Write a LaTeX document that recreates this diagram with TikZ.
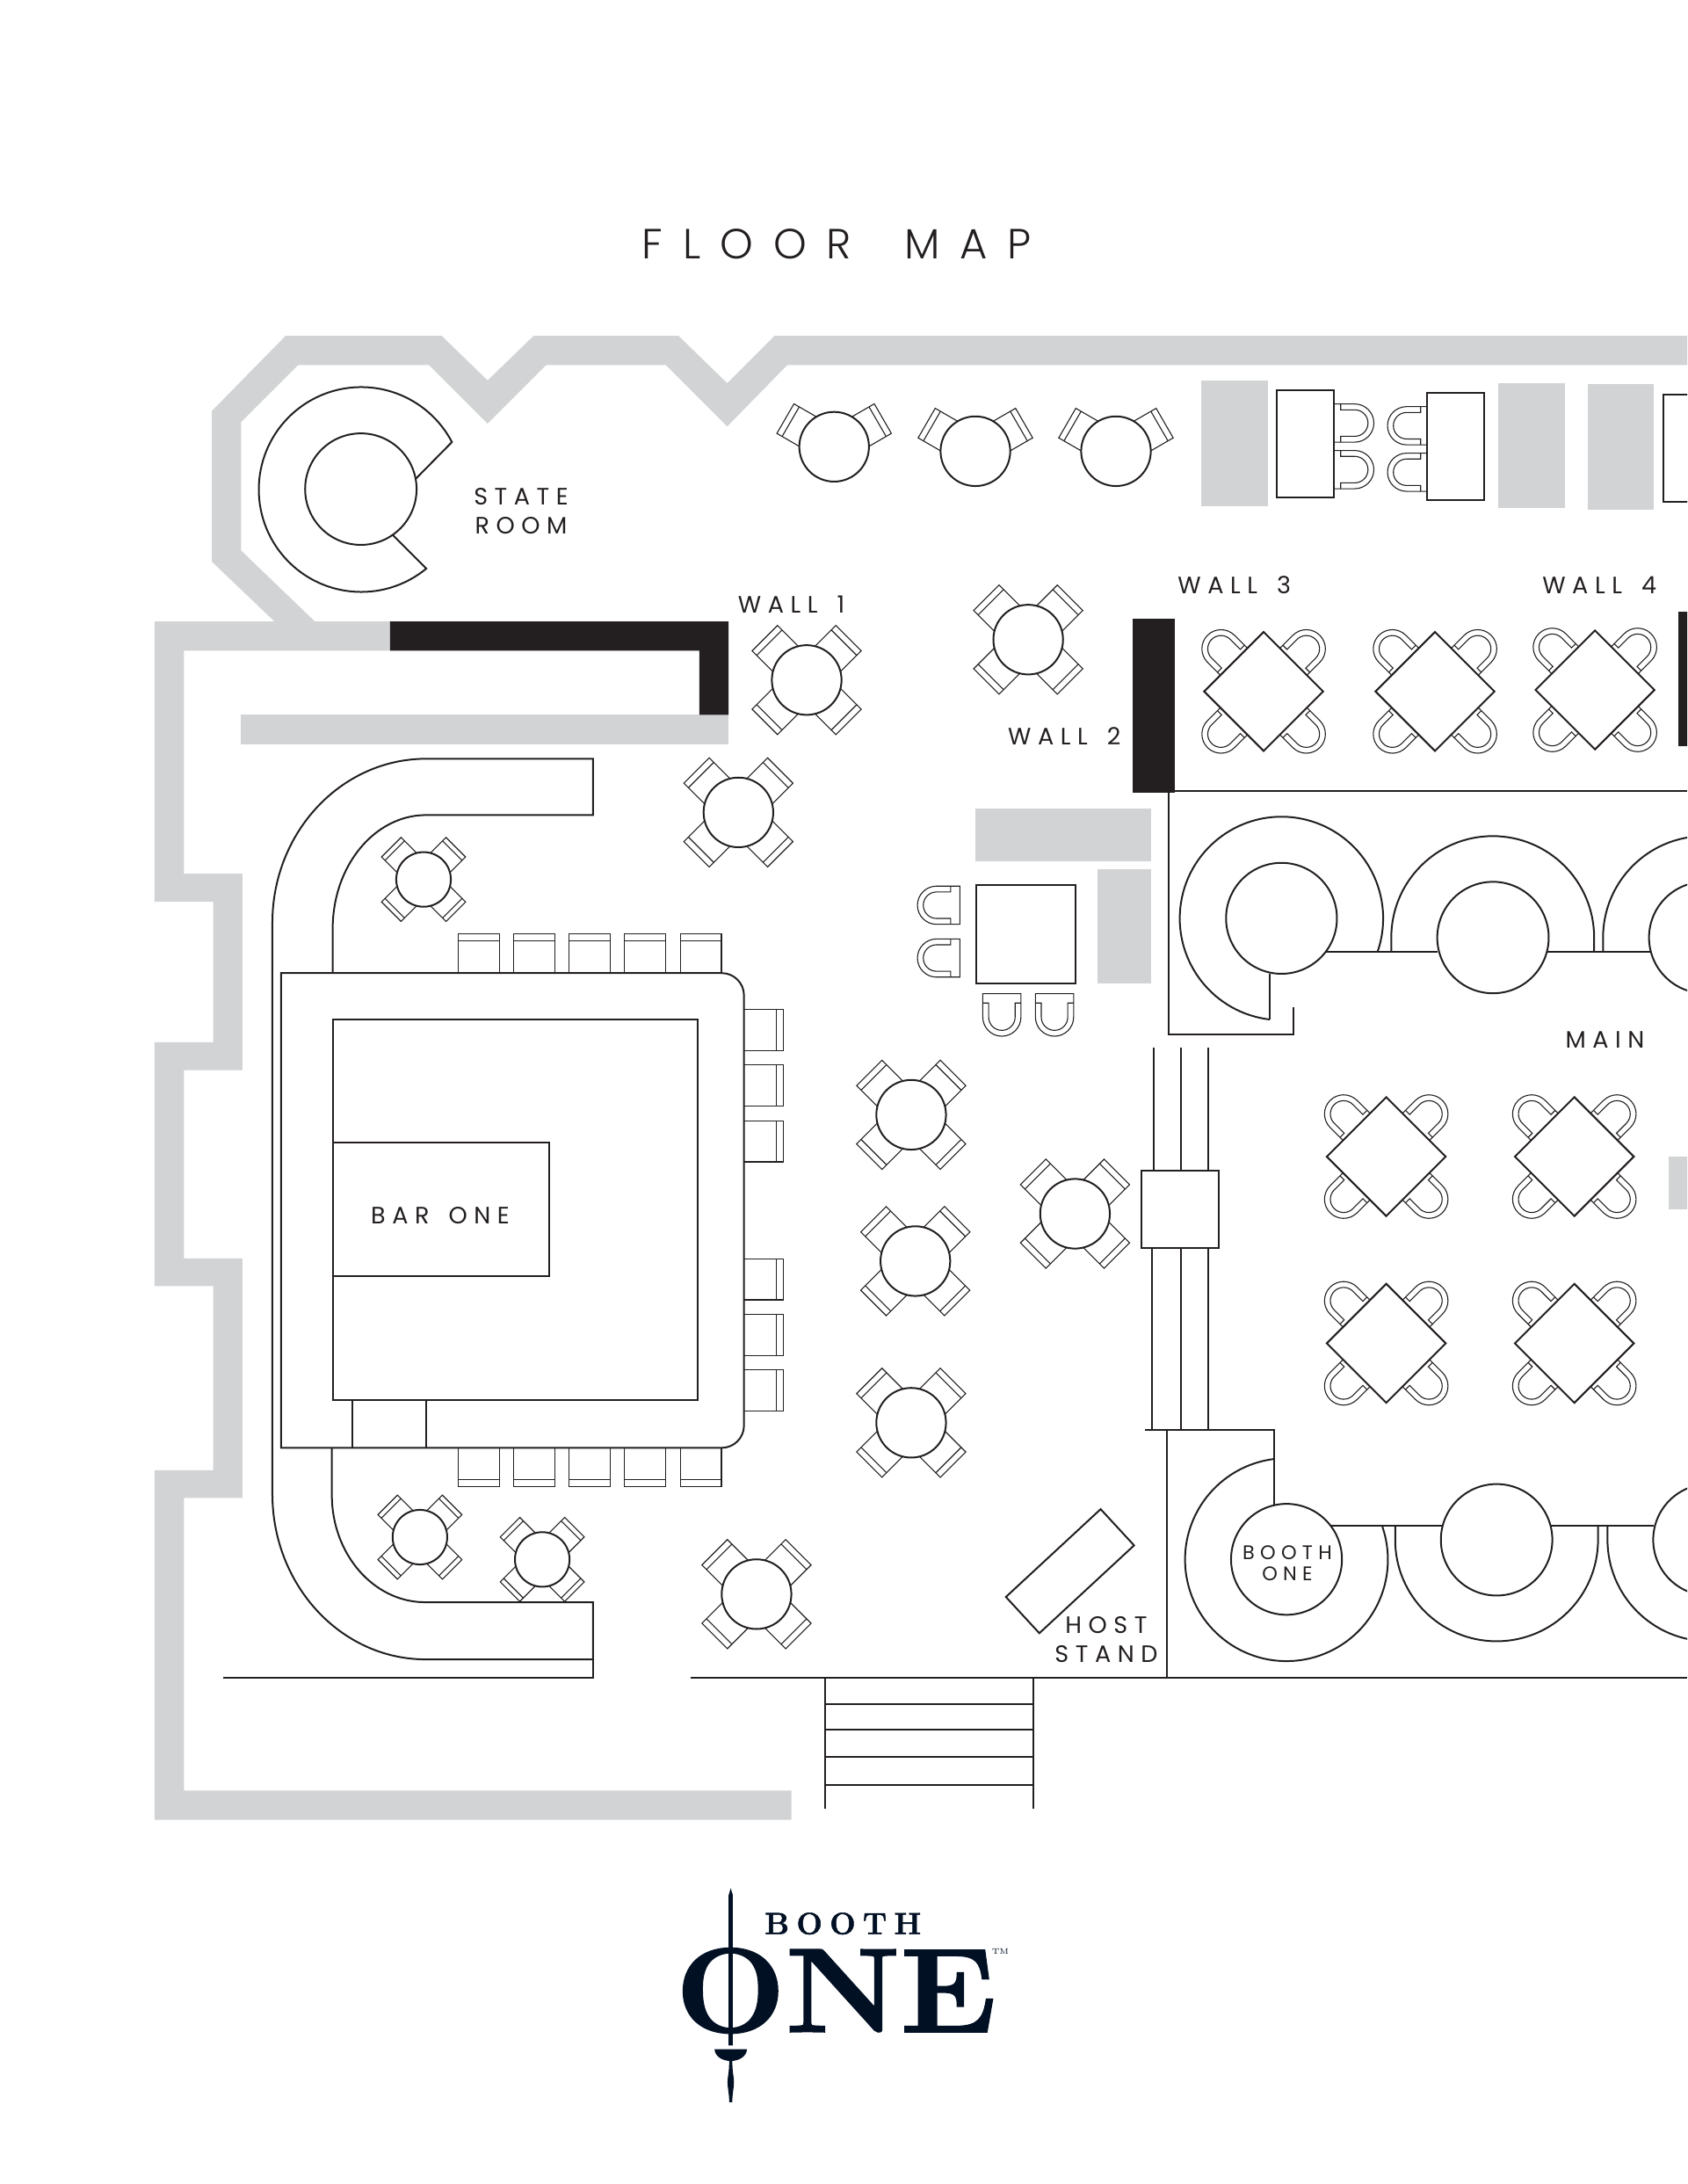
\documentclass[tikz,border=0pt]{standalone}
\usepackage{fontspec}
\setmainfont{Poppins}[LetterSpace=28,WordSpace=1.5]
\newfontfamily\titlefont{Poppins Light}[LetterSpace=47,WordSpace=1.7]
\newfontfamily\logofont{Latin Modern Roman}[BoldFeatures={FakeBold=1.5}]
\definecolor{wallgrey}{HTML}{D1D3D4}
\definecolor{wallblack}{HTML}{231F20}
\definecolor{logoblue}{HTML}{021024}
\tikzset{
	wall/.style={fill=wallgrey},
	darkwall/.style={fill=wallblack},
	mainline/.style={line width=1pt,color=wallblack},
	chairline/.style={line width=0.55pt,color=wallblack},
	tabletop/.style={mainline,fill=white},
	maplabel/.style={inner sep=0pt,align=center,text=wallblack,font=\fontsize{13.5}{16.5}\selectfont},
}
% chair seen from above, x y angle scale
\newcommand{\backchair}[4]{
	\begin{scope}[shift={(#1,#2)},rotate=#3,scale=#4]
	\draw[chairline] (20,-12.9) -- (42.5,-12.9) -- (42.5,12.9) -- (20,12.9);
	\draw[chairline] (37.9,-12.9) -- (37.9,12.9);
	\end{scope}
}
% rounded chair, x y angle offset
\newcommand{\uchair}[4]{
	\begin{scope}[shift={(#1,#2)},rotate=#3]
	\begin{scope}[shift={(#4,0)}]
	\draw[chairline] (0,-13.7) -- (16.8,-13.7) arc (-90:90:13.7) -- (0,13.7) -- cycle;
	\draw[chairline] (6.7,-13.7) -- (6.7,-9.5) -- (16.8,-9.5) arc (-90:90:9.5) -- (6.7,9.5) -- (6.7,13.7);
	\end{scope}
	\end{scope}
}
% stool at the bar, x y angle
\newcommand{\stool}[3]{
	\begin{scope}[shift={(#1,#2)},rotate=#3]
	\draw[chairline] (0,-14.8) -- (28,-14.8) -- (28,14.8) -- (0,14.8);
	\draw[chairline] (23,-14.8) -- (23,14.8);
	\end{scope}
}
\begin{document}
\begin{tikzpicture}[x=0.79273pt,y=-0.79273pt]
	\useasboundingbox (0,0) rectangle (1211,1567.3);
	\clip (0,0) rectangle (1211,1567.3);
	% outer walls
	\fill[wall] (1211,241) -- (556,241) -- (522,275) -- (487,241) -- (383,241) -- (350,273) -- (317,241) -- (205,241) -- (152,295) -- (152,403) -- (197,446) -- (111,446) -- (111,647) -- (153,647) -- (153,748) -- (111,748) -- (111,923) -- (153,923) -- (153,1055) -- (111,1055) -- (111,1306) -- (568,1306) -- (568,1285) -- (132,1285) -- (132,1075) -- (174,1075) -- (174,903) -- (132,903) -- (132,768) -- (174,768) -- (174,627) -- (132,627) -- (132,467) -- (280,467) -- (280,446) -- (226,446) -- (173,395) -- (173,303) -- (214,262) -- (308,262) -- (350,304) -- (392,262) -- (478,262) -- (522,306) -- (565,262) -- (1211,262) -- cycle;
	\fill[wall] (173,513) rectangle (523,534);
	\fill[wall] (862,273) rectangle (910,363);
	\fill[wall] (1075.2,274.8) rectangle (1123.1,364.8);
	\fill[wall] (1139.5,275.8) rectangle (1187.2,365.8);
	\fill[wall] (700,580) rectangle (826,618);
	\fill[wall] (788,624) rectangle (826,706);
	\fill[wall] (1198,830) rectangle (1230,868);
	\fill[darkwall] (280,446) -- (523,446) -- (523,513) -- (502,513) -- (502,467) -- (280,467) -- cycle;
	\fill[darkwall] (813,444) rectangle (843,569);
	\fill[darkwall] (1204.7,439) rectangle (1230,535.7);
	% state room
	\draw[tabletop] (306,408) arc (50.5:332.4:73.5) -- (298,344) -- (282,384) -- cycle;
	\draw[tabletop] (259,351) circle (40);
	% long counter round the bar
	\draw[mainline] (238.8,698.3) -- (238.8,666.5) arc (180:270:67 and 81.6) -- (425.7,584.9) -- (425.7,544.5) -- (305.9,544.5) arc (270:180:110.4 and 117.8) -- (195.5,1072) arc (180:90:110 and 118.8) -- (425.7,1190.8) -- (425.7,1149.8) -- (305.2,1149.8) arc (90:180:67 and 77) -- (238.2,1039);
	\draw[mainline] (160,1204) -- (425.7,1204) -- (425.7,1190.8);
	% bar stools
	\foreach \x in {343.8,383.3,423,463,503}
	{ \stool{\x}{698.3}{90}
	\stool{\x}{1039}{-90}
	}
	\foreach \y in {739,779,819,918,958,998}
	{ \stool{534}{\y}{0}
	}
	% bar
	\draw[tabletop] (201.8,698.3) -- (518,698.3) arc (270:360:16) -- (534,1023) arc (0:90:16) -- (201.8,1039) -- cycle;
	\draw[mainline] (239.3,731.6) rectangle (501,1005);
	\draw[mainline] (239.3,820) rectangle (394,916);
	\draw[mainline] (253,1005) -- (253,1039);
	\draw[mainline] (306,1005) -- (306,1039);
	% round tables for two
	\foreach \x/\y in {598.7/320.6,700.1/323.8,801/323.8}
	{ \backchair{\x}{\y}{30}{0.95}
	\backchair{\x}{\y}{150}{0.95}
	\draw[tabletop] (\x,\y) circle (25);
	}
	% round tables for four
	\foreach \x/\y in {579/488,738/459,530/583,654/800,657/905,654/1021,771.6/871,543/1144}
	{ \foreach \a in {45,135,225,315}
	{ \backchair{\x}{\y}{\a}{1}
	}
	\draw[tabletop] (\x,\y) circle (25);
	}
	\foreach \x/\y in {304/631.1,301.4/1103.1,389.2/1119.1}
	{ \foreach \a in {45,135,225,315}
	{ \backchair{\x}{\y}{\a}{0.77}
	}
	\draw[tabletop] (\x,\y) circle (19.6);
	}
	% square tables with four chairs
	\foreach \x/\y in {907/496.2,1030/496.2,1144.8/495.1,995/830,1130/830,995/964,1130/964}
	{ \foreach \a in {45,135,225,315}
	{ \uchair{\x}{\y}{\a}{26.5}
	}
	\draw[tabletop] (\x-42.7,\y) -- (\x,\y-42.7) -- (\x+42.7,\y) -- (\x,\y+42.7) -- cycle;
	}
	% long tables at the top
	\uchair{957.7}{303.6}{0}{-2.1}
	\uchair{957.7}{337}{0}{-2.1}
	\draw[tabletop] (916.6,280) rectangle (957.7,356.8);
	\uchair{1024.3}{305.5}{180}{-2.1}
	\uchair{1024.3}{338.9}{180}{-2.1}
	\draw[tabletop] (1024.3,282.1) rectangle (1065.5,358.7);
	\draw[tabletop] (1194.2,283.4) rectangle (1240,360);
	% table near the service
	\draw[tabletop] (701,635) rectangle (772,706);
	\uchair{689}{649.6}{180}{0}
	\uchair{689}{687.5}{180}{0}
	\uchair{719.1}{713.1}{-90}{0}
	\uchair{756.9}{713.1}{-90}{0}
	% upper booths
	\draw[mainline] (838.9,567.6) -- (1211,567.6);
	\draw[mainline] (838.9,567.6) -- (838.9,742.5) -- (928.2,742.5) -- (928.2,723);
	\draw[mainline] (950,683) -- (1032,683);
	\draw[mainline] (1110,683) -- (1186,683);
	\draw[mainline] (911.4,731.6) arc (96.6:378.8:73);
	\draw[mainline] (911.4,731.6) -- (911.4,698.9);
	\draw[mainline] (998.6,683) -- (998.6,672.8) arc (180:360:72.8) -- (1144.2,683);
	\draw[mainline] (1150.6,683) -- (1150.6,672.8) arc (180:360:72.8) -- (1296.2,683);
	\draw[tabletop] (919.8,659) circle (39.8);
	\draw[tabletop] (1071.6,672.8) circle (40);
	\draw[tabletop] (1223.6,672.8) circle (40);
	% lower booths
	\draw[mainline] (822,1026.4) -- (914.5,1026.4) -- (914.5,1079.6);
	\draw[mainline] (950,1095) -- (1187,1095);
	\draw[mainline] (914.5,1047) arc (263:-19:72.8);
	\draw[mainline] (1001.4,1095) -- (1001.4,1105) arc (180:0:72.8) -- (1147,1095);
	\draw[mainline] (1153.8,1095) -- (1153.8,1105) arc (180:0:72.8) -- (1299.4,1095);
	\draw[tabletop] (923.4,1119) circle (39.8);
	\draw[tabletop] (1074.2,1105) circle (40);
	\draw[tabletop] (1226.6,1105) circle (40);
	% passage
	\foreach \x/\u in {828/827,847.7/847.7,867.4/867.4}
	{ \draw[mainline] (\x,751.6) -- (\x,840.3);
	\draw[mainline] (\u,895.8) -- (\u,1026.4);
	}
	\draw[tabletop] (819.5,840.3) rectangle (875,895.8);
	\draw[mainline] (837.4,1026.4) -- (837.4,1204);
	\draw[mainline] (496,1204) -- (1211,1204);
	% host stand
	\draw[mainline] (722,1146) -- (790,1083) -- (814,1109) -- (746,1172) -- cycle;
	% stairs
	\draw[mainline] (592,1204) -- (592,1298);
	\draw[mainline] (742,1204) -- (742,1298);
	\foreach \y in {1223,1241,1261,1281}
	{ \draw[mainline] (592,\y) -- (742,\y);
	}
	% labels
	\node[maplabel,font=\titlefont\fontsize{24}{30}\selectfont] (floormap) at (600.5,175) {FLOOR MAP};
	\node[maplabel] (stateroom) at (374,366.5) {STATE\\ROOM};
	\node[maplabel] (wallone) at (568,434) {WALL 1};
	\node[maplabel] (walltwo) at (764,528) {WALL 2};
	\node[maplabel] (wallthree) at (886,420) {WALL 3};
	\node[maplabel] (wallfour) at (1148,420) {WALL 4};
	\node[maplabel] (mainroom) at (1152,746) {MAIN};
	\node[maplabel] (barone) at (316,872) {BAR ONE};
	\node[maplabel,font=\fontsize{11.2}{12}\selectfont] (boothone) at (924,1121.5) {BOOTH\\ONE};
	\node[maplabel] (hoststand) at (794,1176.5) {HOST\\STAND};
	% logo
	\node[inner sep=0pt,anchor=base,text=logoblue,xscale=1.09,transform shape,font=\logofont\bfseries\fontsize{68}{68}\selectfont] (logoone) at (600,1458) {ONE};
	\node[inner sep=0pt,text=logoblue,font=\logofont\bfseries\fontsize{17.4}{18}\selectfont\addfontfeature{LetterSpace=24}] (logobooth) at (605,1380.4) {BOOTH};
	\node[inner sep=0pt,text=logoblue,font=\logofont\fontsize{4.5}{5}\selectfont] (logotm) at (718,1400.6) {TM};
	\fill[logoblue] (523,1360) -- (524.5,1355) -- (526,1360) -- (526,1467.9) -- (523,1467.9) -- cycle;
	\fill[logoblue] (512.9,1470.6) -- (536.1,1470.6) arc (0:180:11.6 and 8.4) -- cycle;
	\fill[logoblue] (523.4,1478) -- (525.6,1478) .. controls (525.6,1488) and (526.8,1490) .. (526.8,1494) .. controls (526.8,1499) and (525.6,1502) .. (525.6,1508.5) -- (523.4,1508.5) .. controls (523.4,1502) and (522.2,1499) .. (522.2,1494) .. controls (522.2,1490) and (523.4,1488) .. (523.4,1478) -- cycle;
\end{tikzpicture}
\end{document}
